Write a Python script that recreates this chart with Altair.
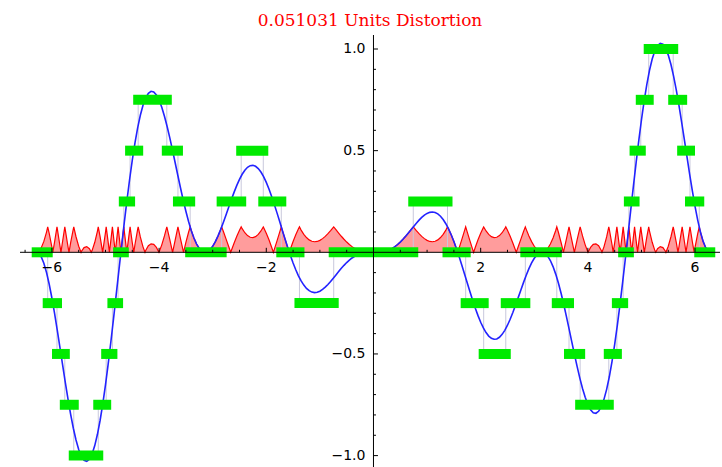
import math
import altair as alt
import pandas as pd

TITLE = "0.051031 Units Distortion"

# ---- signal (blue curve), sampled every 0.05 from -6.25 to 6.25, plus the ends at +-2pi
signal_x = [-6.2832] + [round(-6.25 + 0.05 * i, 2) for i in range(251)] + [6.2832]
signal_y = [
    0.0,
    -0.0034, -0.0213, -0.0537, -0.0995, -0.1572, -0.2249,
    -0.3007, -0.3825, -0.4678, -0.5543, -0.6397, -0.7214, -0.7974, -0.8654, -0.9235, -0.9701,
    -1.0038, -1.0233, -1.0281, -1.0176, -0.9917, -0.9507, -0.8953, -0.8261, -0.7446, -0.6521,
    -0.5503, -0.4411, -0.3264, -0.2084, -0.0892, 0.0291, 0.1444, 0.2547, 0.3582, 0.4532,
    0.5383, 0.6123, 0.6742, 0.7233, 0.7593, 0.7821, 0.7918, 0.7890, 0.7743, 0.7488,
    0.7134, 0.6696, 0.6188, 0.5626, 0.5026, 0.4404, 0.3778, 0.3161, 0.2569, 0.2017,
    0.1514, 0.1073, 0.0702, 0.0405, 0.0189, 0.0054, 0.0001, 0.0027, 0.0127, 0.0296,
    0.0525, 0.0806, 0.1128, 0.1480, 0.1851, 0.2229, 0.2603, 0.2960, 0.3291, 0.3587,
    0.3838, 0.4037, 0.4180, 0.4261, 0.4278, 0.4232, 0.4121, 0.3950, 0.3721, 0.3441,
    0.3115, 0.2750, 0.2356, 0.1939, 0.1510, 0.1077, 0.0649, 0.0233, -0.0161, -0.0528,
    -0.0861, -0.1155, -0.1407, -0.1614, -0.1775, -0.1889, -0.1957, -0.1981, -0.1966, -0.1913,
    -0.1828, -0.1716, -0.1583, -0.1434, -0.1275, -0.1111, -0.0948, -0.0789, -0.0641, -0.0504,
    -0.0383, -0.0279, -0.0193, -0.0125, -0.0074, -0.0039, -0.0017, -0.0005, -0.0001,
    0.0000, 0.0001, 0.0005, 0.0017, 0.0039, 0.0074, 0.0125, 0.0193, 0.0279, 0.0383,
    0.0504, 0.0641, 0.0789, 0.0948, 0.1111, 0.1275, 0.1434, 0.1583, 0.1716, 0.1828,
    0.1913, 0.1966, 0.1981, 0.1957, 0.1889, 0.1775, 0.1614, 0.1407, 0.1155, 0.0861,
    0.0528, 0.0161, -0.0233, -0.0649, -0.1077, -0.1510, -0.1939, -0.2356, -0.2750, -0.3115,
    -0.3441, -0.3721, -0.3950, -0.4121, -0.4232, -0.4278, -0.4261, -0.4180, -0.4037, -0.3838,
    -0.3587, -0.3291, -0.2960, -0.2603, -0.2229, -0.1851, -0.1480, -0.1128, -0.0806, -0.0525,
    -0.0296, -0.0127, -0.0027, -0.0001, -0.0054, -0.0189, -0.0405, -0.0702, -0.1073, -0.1514,
    -0.2017, -0.2569, -0.3161, -0.3778, -0.4404, -0.5026, -0.5626, -0.6188, -0.6696, -0.7134,
    -0.7488, -0.7743, -0.7890, -0.7918, -0.7821, -0.7593, -0.7233, -0.6742, -0.6123, -0.5383,
    -0.4532, -0.3582, -0.2547, -0.1444, -0.0291, 0.0892, 0.2084, 0.3264, 0.4411, 0.5503,
    0.6521, 0.7446, 0.8261, 0.8953, 0.9507, 0.9917, 1.0176, 1.0281, 1.0233, 1.0038,
    0.9701, 0.9235, 0.8654, 0.7974, 0.7214, 0.6397, 0.5543, 0.4678, 0.3825, 0.3007,
    0.2249, 0.1572, 0.0995, 0.0537, 0.0213, 0.0034,
    0.0,
]
assert len(signal_x) == len(signal_y), (len(signal_x), len(signal_y))

# ---- quantized steps (green bars): start, end, level
bar_x0 = [-6.2832, -6.078, -5.905, -5.759, -5.592, -5.135, -4.987, -4.871, -4.765, -4.658,
          -4.541, -4.390, -3.856, -3.648, -3.420, -2.833, -2.468, -2.056, -1.720, -1.381,
          -0.742, 0.742, 1.381, 1.720, 2.056, 2.468, 2.833, 3.420, 3.648, 3.856,
          4.390, 4.541, 4.658, 4.765, 4.871, 4.987, 5.135, 5.592, 5.759, 5.905, 6.078]
bar_x1 = [-6.078, -5.905, -5.759, -5.592, -5.135, -4.987, -4.871, -4.765, -4.658, -4.541,
          -4.390, -3.856, -3.648, -3.420, -2.833, -2.468, -2.056, -1.720, -1.381, -0.742,
          0.742, 1.381, 1.720, 2.056, 2.468, 2.833, 3.420, 3.648, 3.856, 4.390,
          4.541, 4.658, 4.765, 4.871, 4.987, 5.135, 5.592, 5.759, 5.905, 6.078, 6.2832]
bar_level = [0, -0.25, -0.5, -0.75, -1.0, -0.75, -0.5, -0.25, 0, 0.25,
             0.5, 0.75, 0.5, 0.25, 0, 0.25, 0.5, 0.25, 0, -0.25,
             0, 0.25, 0, -0.25, -0.5, -0.25, 0, -0.25, -0.5, -0.75,
             -0.5, -0.25, 0, 0.25, 0.5, 0.75, 1.0, 0.75, 0.5, 0.25, 0]

# ---- where the signal passes exactly through a quantization level (zero distortion)
level_cross_x = [-6.2832, -5.983, -5.831, -5.681, -5.456, -5.266, -5.053, -4.927, -4.818,
                 -4.7124, -4.602, -4.4725, -4.263, -4.002, -3.748, -3.544, -3.1416, -2.664,
                 -1.868, -1.5708, 0.0, 1.5708, 1.868, 2.664, 3.1416, 3.544, 3.748, 4.002,
                 4.263, 4.4725, 4.602, 4.7124, 4.818, 4.927, 5.053, 5.266, 5.456, 5.681,
                 5.831, 5.983, 6.2832]

# ---- axis ticks and labels
x_major = [-6, -4, -2, 2, 4, 6]
x_labels = ["\u22126", "\u22124", "\u22122", "2", "4", "6"]
x_minor = [-6.5, -5.5, -5, -4.5, -3.5, -3, -2.5, -1.5, -1, -0.5,
           0.5, 1, 1.5, 2.5, 3, 3.5, 4.5, 5, 5.5]
y_major = [-1.0, -0.5, 0.5, 1.0]
y_labels = ["\u22121.0", "\u22120.5", "0.5", "1.0"]
y_minor = [-0.9, -0.8, -0.7, -0.6, -0.4, -0.3, -0.2, -0.1,
           0.1, 0.2, 0.3, 0.4, 0.6, 0.7, 0.8, 0.9]

STEP = 0.25
HALF_STEP = 0.125


def quant(v):
    return math.floor(v / STEP + 0.5) * STEP


# distortion = |signal - quantized signal|
red = {}
for x, y in zip(signal_x, signal_y):
    red[round(x, 4)] = abs(y - quant(y))
for x in level_cross_x:
    red[round(x, 4)] = 0.0
for x in set(bar_x0[1:]) | set(bar_x1[:-1]):
    red[round(x, 4)] = HALF_STEP
red_df = pd.DataFrame(sorted(red.items()), columns=["x", "e"])

sig_df = pd.DataFrame({"x": signal_x, "y": signal_y})
bar_df = pd.DataFrame({"x0": bar_x0, "x1": bar_x1, "lvl": bar_level})

step_rows = []
for i, (a, b, l) in enumerate(zip(bar_x0, bar_x1, bar_level)):
    step_rows.append({"x": a, "y": l, "o": 2 * i})
    step_rows.append({"x": b, "y": l, "o": 2 * i + 1})
step_df = pd.DataFrame(step_rows)

W, H = 700, 432
XD = [-6.595, 6.465]
YD = [-1.0561, 1.0689]
xs = alt.Scale(domain=XD, nice=False, zero=False)
ys = alt.Scale(domain=YD, nice=False, zero=False)

LABEL_FONT = "DejaVu Sans"

red_area = alt.Chart(red_df).mark_area(color="#ff9c9c", opacity=1).encode(
    x=alt.X("x:Q", scale=xs, axis=None), y=alt.Y("e:Q", scale=ys, axis=None))
red_line = alt.Chart(red_df).mark_line(color="#ff0000", strokeWidth=1.2).encode(
    x=alt.X("x:Q", scale=xs, axis=None), y=alt.Y("e:Q", scale=ys, axis=None))
steps = alt.Chart(step_df).mark_line(color="#c8c8dc", strokeWidth=1).encode(
    x=alt.X("x:Q", scale=xs, axis=None), y=alt.Y("y:Q", scale=ys, axis=None),
    order="o:Q")
blue = alt.Chart(sig_df).mark_line(color="#2323ff", strokeWidth=1.6).encode(
    x=alt.X("x:Q", scale=xs, axis=None), y=alt.Y("y:Q", scale=ys, axis=None))
bars = alt.Chart(bar_df).mark_rule(color="#00ea00", strokeWidth=10, strokeCap="square").encode(
    x=alt.X("x0:Q", scale=xs, axis=None), x2="x1:Q", y=alt.Y("lvl:Q", scale=ys, axis=None))

zero_df = pd.DataFrame({"z": [0.0]})
x_axis_line = alt.Chart(zero_df).mark_rule(color="black", strokeWidth=1).encode(
    y=alt.Y("z:Q", scale=ys, axis=None), x=alt.value(0), x2=alt.value(W))
y_axis_line = alt.Chart(zero_df).mark_rule(color="black", strokeWidth=1).encode(
    x=alt.X("z:Q", scale=xs, axis=None), y=alt.value(0), y2=alt.value(H))


def xticks(vals, length):
    df = pd.DataFrame({"v": vals, "z": [0.0] * len(vals)})
    return alt.Chart(df).mark_rule(color="black", strokeWidth=1, y2Offset=-length).encode(
        x=alt.X("v:Q", scale=xs, axis=None), y=alt.Y("z:Q", scale=ys, axis=None), y2="z:Q")


def yticks(vals, length):
    df = pd.DataFrame({"v": vals, "z": [0.0] * len(vals)})
    return alt.Chart(df).mark_rule(color="black", strokeWidth=1, x2Offset=length).encode(
        y=alt.Y("v:Q", scale=ys, axis=None), x=alt.X("z:Q", scale=xs, axis=None), x2="z:Q")


xlab_df = pd.DataFrame({"v": x_major, "t": x_labels, "z": [0.0] * len(x_major)})
x_text = alt.Chart(xlab_df).mark_text(
    font=LABEL_FONT, fontSize=14, color="black", baseline="top", align="center", dy=9
).encode(x=alt.X("v:Q", scale=xs, axis=None), y=alt.Y("z:Q", scale=ys, axis=None), text="t:N")

ylab_df = pd.DataFrame({"v": y_major, "t": y_labels, "z": [0.0] * len(y_major)})
y_text = alt.Chart(ylab_df).mark_text(
    font=LABEL_FONT, fontSize=14, color="black", baseline="middle", align="right", dx=-8
).encode(y=alt.Y("v:Q", scale=ys, axis=None), x=alt.X("z:Q", scale=xs, axis=None), text="t:N")

chart = alt.layer(
    red_area, steps, red_line, blue, bars,
    x_axis_line, y_axis_line,
    xticks(x_major, 4.5), xticks(x_minor, 2.5), yticks(y_major, 4.5), yticks(y_minor, 2.5),
    x_text, y_text,
).properties(
    width=W, height=H,
    title=alt.Title(TITLE, color="#ff0000", font="DejaVu Serif", fontSize=17,
                    fontWeight="normal", anchor="middle", offset=5),
    autosize=alt.AutoSizeParams(type="none"),
    padding={"left": 20, "top": 35, "right": 2, "bottom": 0},
    background="white",
).configure_view(stroke=None)

chart.save("out.html", embed_options={"renderer": "svg", "actions": False})
